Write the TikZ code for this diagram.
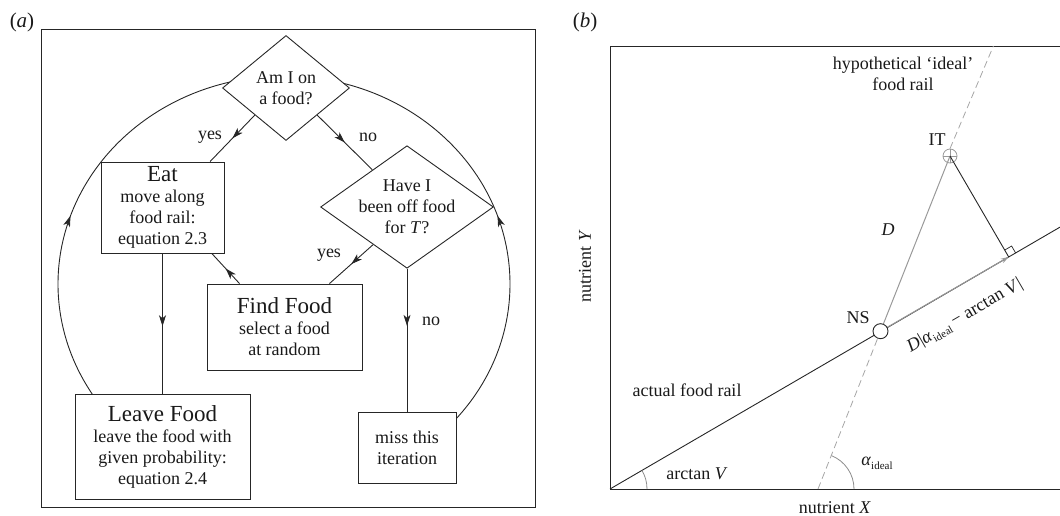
\documentclass[tikz,border=0pt]{standalone}
\usepackage{fontspec}
\setmainfont{Liberation Serif}
\usetikzlibrary{shapes.geometric,arrows.meta,decorations.markings,calc,backgrounds}
\begin{document}
\begin{tikzpicture}[x=1pt,y=1pt,
  every node/.style={font=\fontsize{18}{21}\selectfont, text=black!90},
  line/.style={draw=black!85, line width=0.9pt},
  box/.style={draw=black!85, line width=0.9pt, fill=white, align=center, inner sep=0pt},
  dia/.style={diamond, draw=black!85, line width=0.9pt, fill=white, align=center, inner sep=0pt},
  midarrow/.style={postaction={decorate,decoration={markings,mark=at position #1 with {\arrow{Stealth[length=11pt,width=7pt,inset=3pt]}}}}},
  midarrow/.default=0.5,
  graythin/.style={draw=black!45, line width=0.8pt},
  dashgray/.style={draw=black!35, line width=0.8pt, dash pattern=on 7pt off 4pt},
  lbl/.style={inner sep=0pt}
]
\useasboundingbox (0,0) rectangle (1060,516);

% ---------------- panel (a) ----------------
\node[lbl, font=\fontsize{21}{21}\selectfont] (la) at (22,494) {(\textit{a})};
\draw[line] (41,9) rectangle (535,487);

\node[dia, shape aspect=1.21, minimum width=127pt, minimum height=105pt] (q1) at (286,428) {Am I on\\a food?};
\node[box, minimum width=123pt, minimum height=91pt] (eat) at (162.5,308.5)
  {{\fontsize{23}{21}\selectfont Eat}\\move along\\food rail:\\equation 2.3};
\node[dia, shape aspect=1.41, minimum width=169pt, minimum height=120pt] (q2) at (407,309)
  {Have I\\been off food\\for \textit{T}?};
\node[box, minimum width=155pt, minimum height=86pt] (find) at (284.5,189)
  {{\fontsize{23}{21}\selectfont Find Food}\\select a food\\at random};
\node[box, minimum width=175pt, minimum height=105pt] (leave) at (162.5,69.5)
  {{\fontsize{23}{21}\selectfont Leave Food}\\leave the food with\\given probability:\\equation 2.4};
\node[box, minimum width=98pt, minimum height=71pt] (miss) at (407,68.5) {miss this\\iteration};

\coordinate (loopc) at (284,232);
\begin{scope}[on background layer]
  \draw[line, midarrow=0.456] ($(loopc)+(214:226pt and 208pt)$)
    arc[start angle=214, end angle=100, x radius=226pt, y radius=208pt];
  \draw[line, midarrow=0.496] ($(loopc)+(-43:226pt and 208pt)$)
    arc[start angle=-43, end angle=80, x radius=226pt, y radius=208pt];
\end{scope}

\draw[line, midarrow] (q1.221) -- (eat.44);
\draw[line, midarrow] (q1.-41) -- (q2.133);
\draw[line, midarrow] (q2.228) -- (find.44);
\draw[line, midarrow] (find.136) -- (eat.-43);
\draw[line, midarrow=0.52] (eat.south) -- (leave.north);
\draw[line, midarrow=0.4] (q2.south) -- (miss.north);

\node[lbl] (yes1) at (210,379) {yes};
\node[lbl] (no1) at (368,379) {no};
\node[lbl] (yes2) at (329,261) {yes};
\node[lbl] (no2) at (431,195) {no};

% ---------------- panel (b) ----------------
\node[lbl, font=\fontsize{21}{21}\selectfont] (lb) at (585,494) {(\textit{b})};
\draw[line] (610,27) rectangle (1075,470);

\coordinate (O) at (610,27);
\coordinate (railend) at (1075,297.6);
\coordinate (I0) at (818,27);
\coordinate (Itop) at (993.4,470);
\coordinate (itc) at (950,360);
\coordinate (nsc) at (880.5,184.8);
\coordinate (foot) at ($(O)!(itc)!(railend)$);

\draw[line] (O) -- (railend);
\draw[graythin] ($(O)+(37,0)$) arc[start angle=0, end angle=30.2, radius=37pt];
\draw[graythin] ($(I0)+(36,0)$) arc[start angle=0, end angle=68.4, radius=36pt];

\node[circle, draw=black!40, line width=0.8pt, minimum size=14pt, inner sep=0pt] (it) at (itc) {};
\draw[draw=black!40, line width=0.7pt] (it.north) -- (it.south) (it.west) -- (it.east);

\draw[draw=black!40, line width=1pt, -{Stealth[length=8pt,width=5pt]}] (nsc) -- (foot);
\draw[draw=black!40, line width=1pt] (nsc) -- (it.center);
\draw[dashgray] (I0) -- (nsc);
\draw[dashgray] (it.north) -- (Itop);
\node[circle, draw=black!85, line width=0.9pt, fill=white, minimum size=15pt, inner sep=0pt] (ns) at (nsc) {};
\draw[line] (it.center) -- (foot);
\draw[draw=black!85, line width=0.7pt, shift={(foot)}, rotate=30.2] (8,0) -- (8,8) -- (0,8);

\node[lbl, align=center] (hyp) at (903,442) {hypothetical ‘ideal’\\food rail};
\node[lbl] (itl) at (937,376) {IT};
\node[lbl] (dl) at (888,286) {\textit{D}};
\node[lbl] (nsl) at (858,198) {NS};
\node[lbl, rotate=30.2] (dlen) at (965,200)
  {\textit{D}|\textit{α}\raisebox{-4pt}{\fontsize{11}{11}\selectfont ideal}\,− arctan \textit{V}|};
\node[lbl] (afr) at (687,126) {actual food rail};
\node[lbl] (atv) at (697,42) {arctan \textit{V}};
\node[lbl] (al) at (877,53) {\textit{α}\raisebox{-4pt}{\fontsize{11}{11}\selectfont ideal}};
\node[lbl] (nx) at (835,8) {nutrient \textit{X}};
\node[lbl, rotate=90] (ny) at (585,250) {nutrient \textit{Y}};
\end{tikzpicture}
\end{document}
